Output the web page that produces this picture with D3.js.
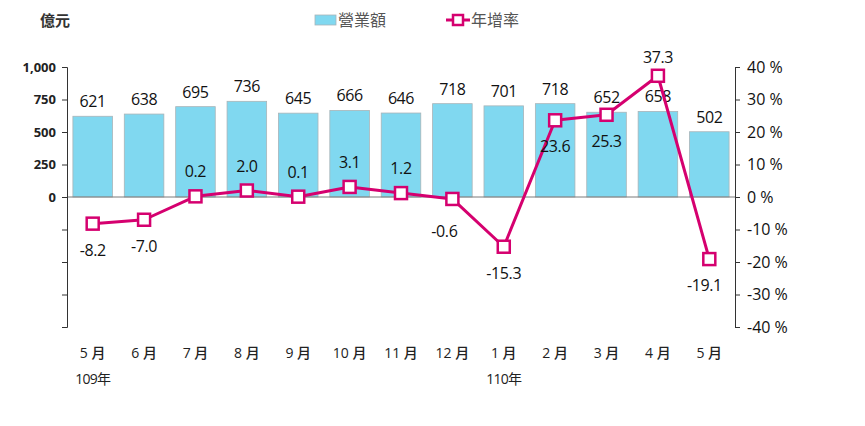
<!DOCTYPE html>
<html>
<head>
<meta charset="utf-8">
<script src="https://cdn.jsdelivr.net/npm/d3@7"></script>
<style>
  body { margin: 0; background: #fff; }
  text { font-family: "Open Sans", "Noto Sans CJK TC", sans-serif; }
</style>
</head>
<body>
<div id="chart"></div>
<script>
var months = ["5 月", "6 月", "7 月", "8 月", "9 月", "10 月", "11 月", "12 月", "1 月", "2 月", "3 月", "4 月", "5 月"];
var revenue = [621, 638, 695, 736, 645, 666, 646, 718, 701, 718, 652, 658, 502];
var growth = [-8.2, -7.0, 0.2, 2.0, 0.1, 3.1, 1.2, -0.6, -15.3, 23.6, 25.3, 37.3, -19.1];
var yearLabels = [{ idx: 0, text: "109年" }, { idx: 8, text: "110年" }];
var leftTicks = [0, 250, 500, 750, 1000, -250, -500, -750, -1000];
var rightTicks = [40, 30, 20, 10, 0, -10, -20, -30, -40];

var W = 865, H = 426;
var margin = { left: 67, right: 130, top: 67, bottom: 99 };
var width = W - margin.left - margin.right,
    height = H - margin.top - margin.bottom;

var barColor = "#80d8f0", lineColor = "#d5006f";

var svg = d3.select("#chart").append("svg")
    .attr("width", W).attr("height", H);

var g = svg.append("g")
    .attr("transform", "translate(" + margin.left + "," + margin.top + ")");

var x = d3.scaleBand().domain(d3.range(months.length)).range([0, width]).paddingInner(0.23).paddingOuter(0.115);
var y = d3.scaleLinear().domain([-1000, 1000]).range([height, 0]);
var y1 = d3.scaleLinear().domain([-40, 40]).range([height, 0]);

// bars
g.selectAll("rect.bar")
  .data(revenue)
  .enter().append("rect")
    .attr("class", "bar")
    .attr("x", function(d, i) { return x(i); })
    .attr("y", function(d) { return y(d); })
    .attr("width", x.bandwidth())
    .attr("height", function(d) { return y(0) - y(d); })
    .attr("fill", barColor)
    .attr("stroke", "#a9b4b8")
    .attr("stroke-width", 0.8);

// zero line
g.append("line")
    .attr("x1", 0).attr("x2", width)
    .attr("y1", y(0)).attr("y2", y(0))
    .attr("stroke", "#7a7a7a").attr("stroke-width", 1);

// left axis
var yAxis = d3.axisLeft(y).tickValues(leftTicks).tickSize(5)
    .tickFormat(function(d) { return d >= 0 ? d3.format(",")(d) : ""; });
var ya = g.append("g").call(yAxis);
ya.select(".domain").attr("stroke", "#333");
ya.selectAll(".tick line").attr("stroke", "#333");
ya.selectAll("text").attr("font-family", "Liberation Sans, Arial, sans-serif")
    .attr("font-weight", "bold").attr("font-size", 13).attr("fill", "#222").attr("x", -11);

// right axis
var y1Axis = d3.axisRight(y1).tickValues(rightTicks).tickSize(5)
    .tickFormat(function(d) { return d + " %"; });
var ra = g.append("g").attr("transform", "translate(" + width + ",0)").call(y1Axis);
ra.select(".domain").attr("stroke", "#333");
ra.selectAll(".tick line").attr("stroke", "#333");
ra.selectAll("text").attr("font-size", 16).attr("fill", "#111").attr("x", 12);

// bar value labels
g.selectAll("text.rev")
  .data(revenue)
  .enter().append("text")
    .attr("class", "rev")
    .attr("x", function(d, i) { return x(i) + x.bandwidth() / 2; })
    .attr("y", function(d) { return y(d) - 9; })
    .attr("text-anchor", "middle")
    .attr("font-size", 16).attr("letter-spacing", -0.4).attr("fill", "#111")
    .text(function(d) { return d; });

// growth line
var line = d3.line()
    .x(function(d, i) { return x(i) + x.bandwidth() / 2; })
    .y(function(d) { return y1(d); });

g.append("path")
    .datum(growth)
    .attr("fill", "none")
    .attr("stroke", lineColor)
    .attr("stroke-width", 3)
    .attr("stroke-linejoin", "round")
    .attr("d", line);

g.selectAll("rect.mk")
  .data(growth)
  .enter().append("rect")
    .attr("class", "mk")
    .attr("x", function(d, i) { return x(i) + x.bandwidth() / 2 - 6; })
    .attr("y", function(d) { return y1(d) - 6; })
    .attr("width", 12).attr("height", 12)
    .attr("fill", "#fff")
    .attr("stroke", lineColor)
    .attr("stroke-width", 2.5);

// growth labels: which ones sit below the marker
var below = [0, 1, 7, 8, 9, 10, 12];
g.selectAll("text.gr")
  .data(growth)
  .enter().append("text")
    .attr("class", "gr")
    .attr("x", function(d, i) { return x(i) + x.bandwidth() / 2 + (i == 12 ? -5 : 0) + (i == 7 ? -8 : 0); })
    .attr("y", function(d, i) {
      if (below.indexOf(i) >= 0) return y1(d) + (i == 7 ? 38 : 32);
      return y1(d) - (i == 11 ? 13 : 19);
    })
    .attr("text-anchor", "middle")
    .attr("font-size", 16).attr("letter-spacing", -0.4).attr("fill", "#111")
    .text(function(d) { return d.toFixed(1); });

// x labels
g.selectAll("text.mo")
  .data(months)
  .enter().append("text")
    .attr("class", "mo")
    .attr("x", function(d, i) { return x(i) + x.bandwidth() / 2; })
    .attr("y", height + 31)
    .attr("text-anchor", "middle")
    .attr("font-size", 14).attr("font-weight", 500).attr("fill", "#222")
    .attr("font-family", "Noto Sans CJK TC, sans-serif")
    .text(function(d) { return d; });

g.selectAll("text.yr")
  .data(yearLabels)
  .enter().append("text")
    .attr("class", "yr")
    .attr("x", function(d) { return x(d.idx) + x.bandwidth() / 2; })
    .attr("y", height + 57)
    .attr("text-anchor", "middle")
    .attr("font-size", 14).attr("fill", "#222")
    .attr("font-family", "Noto Sans CJK TC, sans-serif")
    .attr("letter-spacing", -0.8)
    .text(function(d) { return d.text; });

// unit
svg.append("text")
    .attr("x", 40).attr("y", 26)
    .attr("font-size", 15).attr("font-weight", "bold").attr("fill", "#333")
    .attr("font-family", "Noto Sans CJK TC, sans-serif")
    .text("億元");

// legend
var lg = svg.append("g");
lg.append("rect").attr("x", 315).attr("y", 15).attr("width", 21).attr("height", 10)
    .attr("fill", barColor).attr("stroke", "#a9b4b8").attr("stroke-width", 0.8);
lg.append("text").attr("x", 338).attr("y", 26).attr("font-size", 16).attr("fill", "#555")
    .attr("font-family", "Noto Sans CJK TC, sans-serif").text("營業額");
lg.append("line").attr("x1", 446).attr("x2", 470).attr("y1", 20).attr("y2", 20)
    .attr("stroke", lineColor).attr("stroke-width", 3);
lg.append("rect").attr("x", 453).attr("y", 15).attr("width", 10).attr("height", 10)
    .attr("fill", "#fff").attr("stroke", lineColor).attr("stroke-width", 2.5);
lg.append("text").attr("x", 471).attr("y", 26).attr("font-size", 16).attr("fill", "#555")
    .attr("font-family", "Noto Sans CJK TC, sans-serif").text("年增率");
</script>
</body>
</html>
